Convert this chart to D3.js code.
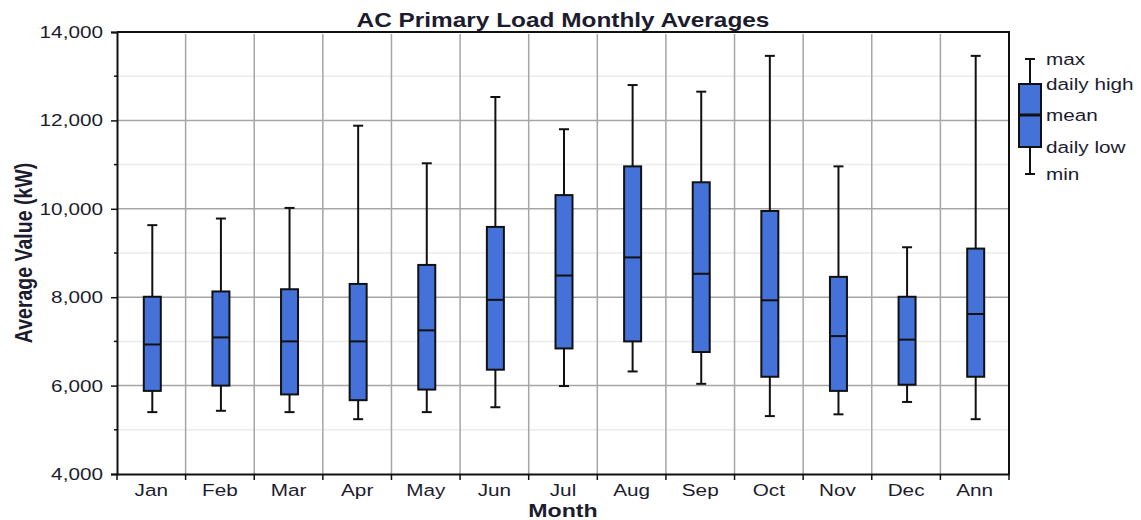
<!DOCTYPE html>
<html>
<head>
<meta charset="utf-8">
<script src="https://cdn.jsdelivr.net/npm/d3@7"></script>
<style>
  body { margin: 0; background: #fff; }
  svg text { font-family: "Liberation Sans", Arial, sans-serif; fill: #1c1c2e; }
</style>
</head>
<body>
<div id="chart"></div>
<script>
const months = ['Jan', 'Feb', 'Mar', 'Apr', 'May', 'Jun', 'Jul', 'Aug', 'Sep', 'Oct', 'Nov', 'Dec', 'Ann'];
const maxVals  = [9630, 9780, 10020, 11880, 11030, 12530, 11800, 12800, 12650, 13460, 10960, 9130, 13460];
const highVals = [8010, 8130, 8180, 8300, 8730, 9590, 10310, 10960, 10600, 9950, 8460, 8010, 9100];
const meanVals = [6930, 7090, 7000, 7000, 7250, 7940, 8490, 8900, 8530, 7930, 7120, 7040, 7620];
const lowVals  = [5880, 6000, 5800, 5670, 5910, 6360, 6840, 7000, 6760, 6200, 5880, 6020, 6200];
const minVals  = [5400, 5430, 5400, 5240, 5400, 5510, 5990, 6320, 6040, 5310, 5350, 5630, 5240];
const majorTicks = [4000, 6000, 8000, 10000, 12000, 14000];
const minorTicks = [5000, 7000, 9000, 11000, 13000];
const legendLabels = ['max', 'daily high', 'mean', 'daily low', 'min'];

const width = 1141;
const height = 520;
const margin = { top: 32, bottom: 46, left: 117, right: 132 };
const boxColor = '#4472d9';
const sx = 1.22; // the source text is stretched sideways

const data = months.map((m, i) => ({
  month: m, max: maxVals[i], high: highVals[i], mean: meanVals[i], low: lowVals[i], min: minVals[i]
}));

const svg = d3.select('#chart')
  .append('svg')
  .attr('width', width)
  .attr('height', height);

const x = d3.scaleBand()
  .domain(months)
  .range([margin.left, width - margin.right])
  .padding(0);

const y = d3.scaleLinear()
  .domain([4000, 14000])
  .range([height - margin.bottom, margin.top]);

function stretch(sel) {
  sel.attr('transform', function() {
    const t = d3.select(this);
    const tx = +t.attr('x') || 0, ty = +t.attr('y') || 0;
    return `translate(${tx},${ty}) scale(${sx},1) translate(${-tx},${-ty})`;
  });
}

// grid
svg.append('g')
  .selectAll('line')
  .data(minorTicks)
  .join('line')
  .attr('x1', x.range()[0]).attr('x2', x.range()[1])
  .attr('y1', d => y(d)).attr('y2', d => y(d))
  .attr('stroke', '#ebebeb').attr('stroke-width', 1.5);

svg.append('g')
  .selectAll('line')
  .data(majorTicks.slice(1, -1))
  .join('line')
  .attr('x1', x.range()[0]).attr('x2', x.range()[1])
  .attr('y1', d => y(d)).attr('y2', d => y(d))
  .attr('stroke', '#a6a6a6').attr('stroke-width', 1.5);

svg.append('g')
  .selectAll('line')
  .data(months.slice(1))
  .join('line')
  .attr('x1', d => x(d)).attr('x2', d => x(d))
  .attr('y1', y(14000) + 2).attr('y2', y(4000))
  .attr('stroke', '#a6a6a6').attr('stroke-width', 1.5);

// frame top and right
svg.append('path')
  .attr('d', `M${x.range()[0]},${y(14000)}H${x.range()[1]}V${y(4000)}`)
  .attr('fill', 'none').attr('stroke', '#111').attr('stroke-width', 2);

// axes
const yAxis = svg.append('g')
  .attr('transform', `translate(${margin.left},0)`)
  .call(d3.axisLeft(y).tickValues(majorTicks).tickFormat(d3.format(',')).tickSize(6).tickPadding(8));
yAxis.select('.domain').attr('stroke', '#111').attr('stroke-width', 2);
yAxis.selectAll('.tick line').attr('stroke', '#111').attr('stroke-width', 1.5);
yAxis.selectAll('text').attr('font-size', '17px').attr('fill', '#1c1c3a').call(stretch);

svg.append('g')
  .selectAll('line')
  .data(minorTicks)
  .join('line')
  .attr('x1', margin.left - 3).attr('x2', margin.left)
  .attr('y1', d => y(d)).attr('y2', d => y(d))
  .attr('stroke', '#111').attr('stroke-width', 1.5);

const xAxis = svg.append('g')
  .attr('transform', `translate(0,${y(4000)})`)
  .call(d3.axisBottom(x).tickSize(0).tickPadding(10));
xAxis.select('.domain').attr('stroke', '#111').attr('stroke-width', 2);
xAxis.selectAll('text').attr('font-size', '17px').attr('fill', '#1c1c3a').call(stretch);

svg.append('g')
  .selectAll('line')
  .data(months.concat(['end']))
  .join('line')
  .attr('x1', (d, i) => x.range()[0] + i * x.step())
  .attr('x2', (d, i) => x.range()[0] + i * x.step())
  .attr('y1', y(4000)).attr('y2', y(4000) + 6)
  .attr('stroke', '#111').attr('stroke-width', 1.5);

// boxes
const boxW = 17, capW = 10;
const g = svg.append('g')
  .selectAll('g')
  .data(data)
  .join('g')
  .attr('transform', d => `translate(${x(d.month) + x.bandwidth() / 2 + 1},0)`);

g.append('line')
  .attr('y1', d => y(d.max)).attr('y2', d => y(d.min))
  .attr('stroke', '#111').attr('stroke-width', 2);
g.append('line')
  .attr('x1', -capW / 2).attr('x2', capW / 2)
  .attr('y1', d => y(d.max)).attr('y2', d => y(d.max))
  .attr('stroke', '#111').attr('stroke-width', 2);
g.append('line')
  .attr('x1', -capW / 2).attr('x2', capW / 2)
  .attr('y1', d => y(d.min)).attr('y2', d => y(d.min))
  .attr('stroke', '#111').attr('stroke-width', 2);
g.append('rect')
  .attr('x', -boxW / 2).attr('width', boxW)
  .attr('y', d => y(d.high)).attr('height', d => y(d.low) - y(d.high))
  .attr('fill', boxColor).attr('stroke', '#111').attr('stroke-width', 2);
g.append('line')
  .attr('x1', -boxW / 2).attr('x2', boxW / 2)
  .attr('y1', d => y(d.mean)).attr('y2', d => y(d.mean))
  .attr('stroke', '#111').attr('stroke-width', 2);

// titles
svg.append('text')
  .attr('x', (x.range()[0] + x.range()[1]) / 2).attr('y', 27)
  .attr('text-anchor', 'middle').attr('font-size', '20px').attr('font-weight', 'bold')
  .text('AC Primary Load Monthly Averages')
  .call(stretch);

svg.append('text')
  .attr('x', (x.range()[0] + x.range()[1]) / 2).attr('y', 517)
  .attr('text-anchor', 'middle').attr('font-size', '19px').attr('font-weight', 'bold')
  .text('Month')
  .call(stretch);

svg.append('text')
  .attr('transform', `translate(32,${(y(4000) + y(14000)) / 2}) scale(${sx},1) rotate(-90)`)
  .attr('text-anchor', 'middle').attr('font-size', '19.5px').attr('font-weight', 'bold')
  .text('Average Value (kW)');

// legend
const lg = svg.append('g').attr('transform', 'translate(1030,0)');
const legY = [59, 84, 115, 147, 174];
lg.append('line').attr('y1', legY[0]).attr('y2', legY[4]).attr('stroke', '#111').attr('stroke-width', 2);
lg.append('line').attr('x1', -5).attr('x2', 5).attr('y1', legY[0]).attr('y2', legY[0]).attr('stroke', '#111').attr('stroke-width', 2);
lg.append('line').attr('x1', -5).attr('x2', 5).attr('y1', legY[4]).attr('y2', legY[4]).attr('stroke', '#111').attr('stroke-width', 2);
lg.append('rect').attr('x', -11).attr('width', 22).attr('y', legY[1]).attr('height', legY[3] - legY[1])
  .attr('fill', boxColor).attr('stroke', '#111').attr('stroke-width', 2);
lg.append('line').attr('x1', -11).attr('x2', 11).attr('y1', legY[2]).attr('y2', legY[2]).attr('stroke', '#111').attr('stroke-width', 3);
lg.selectAll('text.leg')
  .data(legendLabels)
  .join('text')
  .attr('class', 'leg')
  .attr('x', 16).attr('y', (d, i) => legY[i] + 6)
  .attr('font-size', '17px').attr('fill', '#1c1c3a')
  .text(d => d)
  .call(stretch);
</script>
</body>
</html>
